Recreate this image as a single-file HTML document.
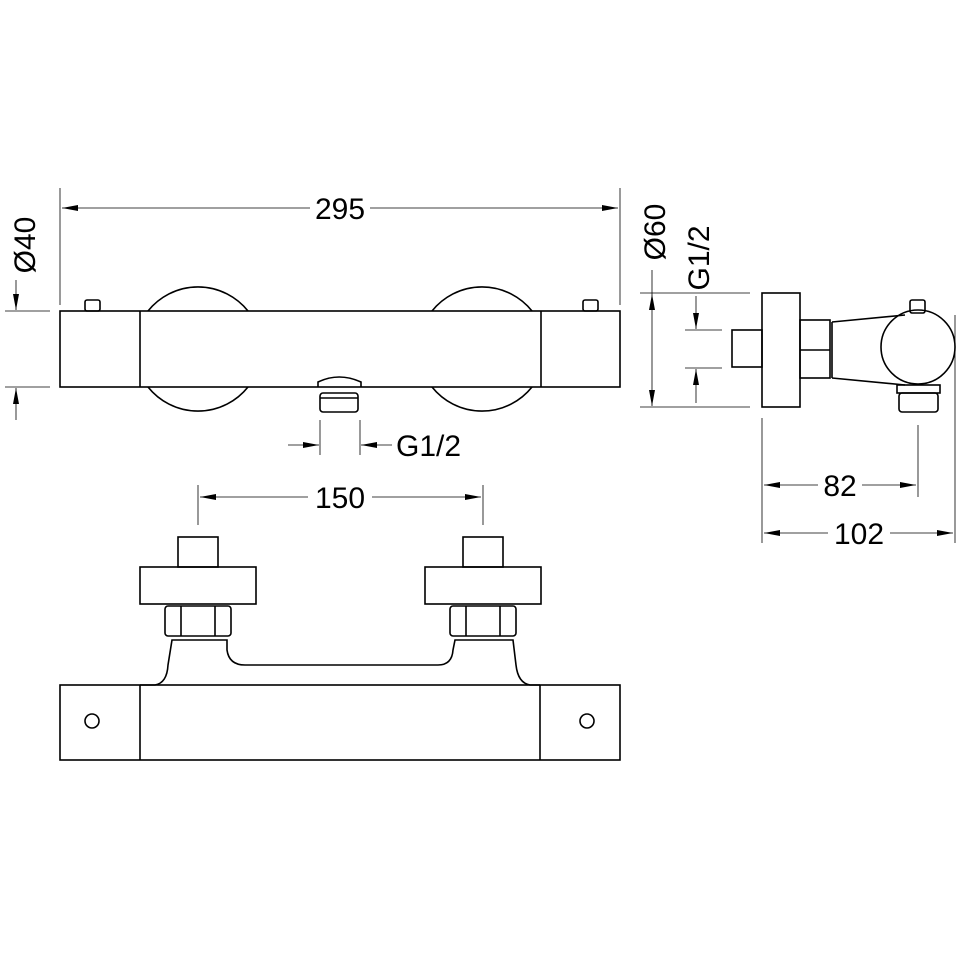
<!DOCTYPE html>
<html><head><style>body{margin:0;background:#fff}svg{display:block}</style></head><body>
<svg width="961" height="961" viewBox="0 0 961 961" xmlns="http://www.w3.org/2000/svg" font-family="Liberation Sans, sans-serif">
<defs>
<marker id="a" viewBox="0 0 16 8" refX="16" refY="4" markerWidth="16" markerHeight="8" markerUnits="userSpaceOnUse" orient="auto-start-reverse"><path d="M0,1 L16,4 L0,7 z" fill="#000"/></marker>
</defs>
<g fill="none" stroke="#000" stroke-width="1.6">
<path d="M148,311 A64,64 0 0 1 248,311 M148,387 A64,64 0 0 0 248,387"/>
<path d="M432,311 A64,64 0 0 1 532,311 M432,387 A64,64 0 0 0 532,387"/>
<rect x="60" y="311" width="560" height="76"/>
<line x1="140" y1="311" x2="140" y2="387"/>
<line x1="541" y1="311" x2="541" y2="387"/>
<rect x="85" y="300" width="15" height="11" rx="2"/>
<rect x="583" y="300" width="15" height="11" rx="2"/>
<path d="M318,387 L318,382 Q339,372 361,382 L361,387"/>
<rect x="320" y="393" width="38" height="19" rx="3"/>
<line x1="320" y1="398" x2="358" y2="398"/>
<rect x="762" y="293" width="38" height="114"/>
<rect x="732" y="330" width="30" height="37"/>
<rect x="800" y="320" width="30" height="58"/>
<line x1="800" y1="350" x2="830" y2="350"/>
<path d="M832,322 L832,378 M832,322 L905,315 M832,378 L905,385"/>
<circle cx="918" cy="347" r="37"/>
<rect x="910" y="300" width="15" height="13" rx="2"/>
<rect x="897" y="385" width="43" height="8"/>
<rect x="899" y="393" width="39" height="19" rx="3"/>
<rect x="60" y="685" width="560" height="75"/>
<line x1="140" y1="685" x2="140" y2="760"/>
<line x1="540" y1="685" x2="540" y2="760"/>
<circle cx="92" cy="721" r="7"/>
<circle cx="587" cy="721" r="7"/>
<path d="M140,685 L155,685 Q167,683 168,665 L172,640 L220,640 L227,640 L227,650 Q229,665 245,665 L438,665 Q452,665 453,650 L455,640 L513,640 L516,665 Q518,683 530,685 L540,685"/>
<rect x="140" y="567" width="116" height="37"/>
<rect x="178" y="537" width="40" height="30"/>
<rect x="165" y="606" width="66" height="30" rx="3"/>
<line x1="181" y1="606" x2="181" y2="636"/><line x1="215" y1="606" x2="215" y2="636"/>
<rect x="425" y="567" width="116" height="37"/>
<rect x="463" y="537" width="40" height="30"/>
<rect x="450" y="606" width="66" height="30" rx="3"/>
<line x1="466" y1="606" x2="466" y2="636"/><line x1="500" y1="606" x2="500" y2="636"/>
</g>
<g fill="none" stroke="#000" stroke-width="0.8">
<line x1="60" y1="188" x2="60" y2="305"/><line x1="620" y1="188" x2="620" y2="305"/>
<line x1="62" y1="208" x2="310" y2="208" marker-start="url(#a)"/>
<line x1="370" y1="208" x2="618" y2="208" marker-end="url(#a)"/>
<line x1="5" y1="311" x2="50" y2="311"/><line x1="5" y1="387" x2="50" y2="387"/>
<line x1="16" y1="280" x2="16" y2="310" marker-end="url(#a)"/>
<line x1="16" y1="420" x2="16" y2="388" marker-end="url(#a)"/>
<line x1="320" y1="420" x2="320" y2="455"/><line x1="360" y1="420" x2="360" y2="455"/>
<line x1="288" y1="445" x2="319" y2="445" marker-end="url(#a)"/>
<line x1="392" y1="445" x2="361" y2="445" marker-end="url(#a)"/>
<line x1="640" y1="293" x2="750" y2="293"/><line x1="640" y1="407" x2="750" y2="407"/>
<line x1="652" y1="270" x2="652" y2="294"/>
<line x1="652" y1="350" x2="652" y2="294" marker-end="url(#a)"/>
<line x1="652" y1="350" x2="652" y2="406" marker-end="url(#a)"/>
<line x1="685" y1="330" x2="722" y2="330"/><line x1="685" y1="368" x2="722" y2="368"/>
<line x1="696" y1="296" x2="696" y2="329" marker-end="url(#a)"/>
<line x1="696" y1="403" x2="696" y2="369" marker-end="url(#a)"/>
<line x1="762" y1="418" x2="762" y2="543"/>
<line x1="918" y1="425" x2="918" y2="497"/>
<line x1="955" y1="315" x2="955" y2="543"/>
<line x1="764" y1="485" x2="818" y2="485" marker-start="url(#a)"/>
<line x1="862" y1="485" x2="916" y2="485" marker-end="url(#a)"/>
<line x1="764" y1="533" x2="828" y2="533" marker-start="url(#a)"/>
<line x1="890" y1="533" x2="953" y2="533" marker-end="url(#a)"/>
<line x1="198" y1="485" x2="198" y2="525"/><line x1="483" y1="485" x2="483" y2="525"/>
<line x1="200" y1="497" x2="308" y2="497" marker-start="url(#a)"/>
<line x1="372" y1="497" x2="481" y2="497" marker-end="url(#a)"/>
</g>
<g font-size="30" fill="#000">
<text x="340" y="219" text-anchor="middle">295</text>
<text x="340" y="508" text-anchor="middle">150</text>
<text x="396" y="456">G1/2</text>
<text x="840" y="496" text-anchor="middle">82</text>
<text x="859" y="544" text-anchor="middle">102</text>
<text transform="translate(35,245) rotate(-90)" text-anchor="middle">Ø40</text>
<text transform="translate(665,232) rotate(-90)" text-anchor="middle">Ø60</text>
<text transform="translate(709,258) rotate(-90)" text-anchor="middle">G1/2</text>
</g>
</svg>
</body></html>
